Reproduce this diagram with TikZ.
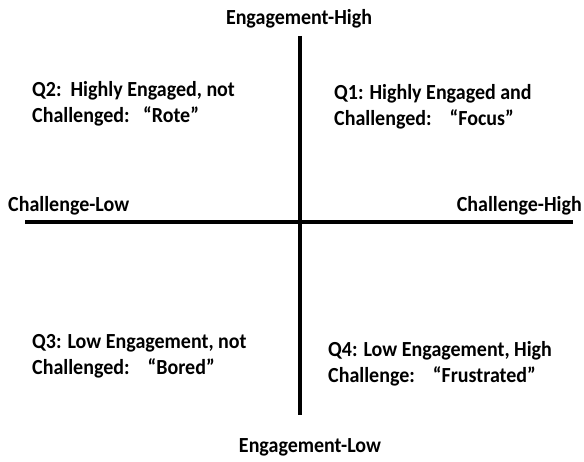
\documentclass[tikz,border=0pt]{standalone}
\usepackage{fontspec}
\setmainfont{Carlito}
\tikzset{
	label/.style={font=\fontsize{21.5}{26}\selectfont\bfseries, inner sep=0pt, xscale=0.93, transform shape},
	quad/.style={label, align=left, anchor=base west},
	axis/.style={line width=4.5pt}
}
\begin{document}
\begin{tikzpicture}[x=1pt, y=-1pt]
		\useasboundingbox (0,0) rectangle (584,462);
		%axes
		\coordinate (top) at (300,36);
		\coordinate (bottom) at (300,415);
		\coordinate (left) at (25,222);
		\coordinate (right) at (573,222);
		\draw[axis] (top) -- (bottom);
		\draw[axis] (left) -- (right);
		
		%axis labels
		\node[label, anchor=base] (engHigh) at (299,25){Engagement-High};
		\node[label, anchor=base] (engLow) at (310,453){Engagement-Low};
		\node[label, anchor=base west] (chLow) at (8,212){Challenge-Low};
		\node[label, anchor=base east] (chHigh) at (582,212){Challenge-High};
		
		%quadrants (base = last line)
		\node[quad] (q2) at (32,123){Q2:\ \ Highly Engaged, not\\Challenged:\ \ \ “Rote”};
		\node[quad] (q1) at (334,126){Q1: Highly Engaged and\\Challenged:\ \ \ \ “Focus”};
		\node[quad] (q3) at (32,375){Q3: Low Engagement, not\\Challenged:\ \ \ \ “Bored”};
		\node[quad] (q4) at (328,383){Q4: Low Engagement, High\\Challenge:\ \ \ \ “Frustrated”};
\end{tikzpicture}
\end{document}
